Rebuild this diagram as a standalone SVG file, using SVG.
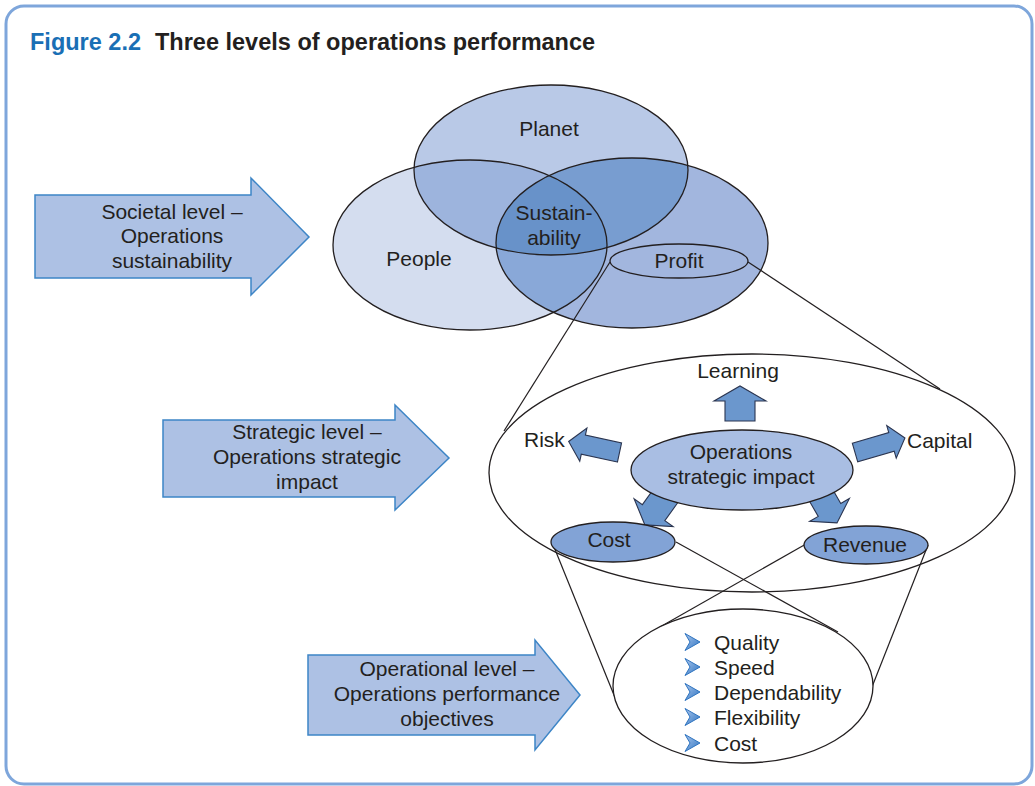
<svg xmlns="http://www.w3.org/2000/svg" width="1035" height="786" viewBox="0 0 1035 786">
<style>
text{font-family:"Liberation Sans",Arial,sans-serif;font-size:21px;fill:#231f20}
.c{text-anchor:middle}
.ol{fill:none;stroke:#231f20;stroke-width:1.3}
.ln{stroke:#231f20;stroke-width:1.2;fill:none}
.lvl{fill:#adc1e4;stroke:#3d85c6;stroke-width:1.5}
.ba{fill:#6b97cd;stroke:#2b3550;stroke-width:1.1}
</style>
<defs>
<ellipse id="ePeople" cx="470" cy="245" rx="137" ry="85"/>
<ellipse id="ePlanet" cx="551" cy="170" rx="137" ry="85"/>
<ellipse id="eProfit" cx="632" cy="243" rx="136" ry="85"/>
<clipPath id="cPeople"><use href="#ePeople"/></clipPath>
<clipPath id="cProfit"><use href="#eProfit"/></clipPath>
<linearGradient id="gb" x1="0" y1="0" x2="1" y2="1">
<stop offset="0" stop-color="#a9c6ee"/><stop offset="1" stop-color="#2f74c0"/>
</linearGradient>
<polygon id="chev" points="0,-8.5 15,0 0,8.5 5,0" fill="url(#gb)" stroke="#2f74c0" stroke-width="1"/>
</defs>
<rect x="6" y="6" width="1026" height="778" rx="18" fill="#fff" stroke="#7ea6db" stroke-width="3"/>
<g id="title">
<text x="30" y="50" style="font-size:23.5px;font-weight:bold;fill:#1a6fb5">Figure 2.2</text>
<text x="155" y="50" style="font-size:23.5px;font-weight:bold;fill:#231f20">Three levels of operations performance</text>
</g>
<g id="venn">
<use href="#ePeople" fill="#d4ddef"/>
<use href="#ePlanet" fill="#b9c9e7"/>
<use href="#eProfit" fill="#a2b6de"/>
<use href="#ePlanet" fill="#9db4dd" clip-path="url(#cPeople)"/>
<use href="#ePlanet" fill="#789dd0" clip-path="url(#cProfit)"/>
<g clip-path="url(#cProfit)"><use href="#ePeople" fill="#89a8d8"/></g>
<g clip-path="url(#cProfit)"><use href="#ePlanet" fill="#6892c9" clip-path="url(#cPeople)"/></g>
<use href="#ePeople" class="ol"/>
<use href="#ePlanet" class="ol"/>
<use href="#eProfit" class="ol"/>
<text class="c" x="549" y="136">Planet</text>
<text class="c" x="419" y="266">People</text>
<text class="c" x="554" y="220">Sustain-</text>
<text class="c" x="554" y="245">ability</text>
</g>
<g id="profit">
<ellipse cx="679" cy="261" rx="69" ry="17" fill="#a2b6de" stroke="#231f20" stroke-width="1.3"/>
<text class="c" x="679" y="268">Profit</text>
</g>
<g id="strategic-ellipse">
<ellipse cx="752" cy="473" rx="263" ry="119" fill="none" stroke="#231f20" stroke-width="1.3"/>
</g>
<g id="connectors">
<line class="ln" x1="610" y1="262" x2="504" y2="431"/>
<line class="ln" x1="748" y1="262" x2="940" y2="389"/>
<line class="ln" x1="552" y1="542" x2="616" y2="700"/>
<line class="ln" x1="676" y1="542" x2="838" y2="632"/>
<line class="ln" x1="806" y1="544" x2="660" y2="627"/>
<line class="ln" x1="928" y1="545" x2="870" y2="692"/>
</g>
<g id="impact-arrows">
<polygon class="ba" transform="translate(740,421) rotate(-90)" points="0,-15 20,-15 20,-26 35,0 20,26 20,15 0,15"/>
<polygon class="ba" transform="translate(619.5,452.5) rotate(192.2)" points="0,-9.8 37,-9.8 37,-17 52,0 37,17 37,9.8 0,9.8"/>
<polygon class="ba" transform="translate(855,452.5) rotate(-16.2)" points="0,-9.7 38,-9.7 38,-17 52,0 38,17 38,9.7 0,9.7"/>
<polygon class="ba" transform="translate(667,494) rotate(125.6)" points="0,-13.8 23,-13.8 23,-24 38,0 23,24 23,13.8 0,13.8"/>
<polygon class="ba" transform="translate(818,490) rotate(60)" points="0,-13 23,-13 23,-23 38,0 23,23 23,13 0,13"/>
</g>
<g id="impact">
<ellipse cx="742" cy="470" rx="111" ry="40" fill="#a9bee3" stroke="#231f20" stroke-width="1.3"/>
<text class="c" x="741" y="459">Operations</text>
<text class="c" x="741" y="484">strategic impact</text>
</g>
<g id="learning"><text class="c" x="738" y="378">Learning</text></g>
<g id="risk"><text x="524" y="447">Risk</text></g>
<g id="capital"><text x="907" y="448">Capital</text></g>
<g id="cost">
<ellipse cx="613" cy="542" rx="62" ry="20" fill="#82a3d6" stroke="#231f20" stroke-width="1.3"/>
<text class="c" x="609" y="547">Cost</text>
</g>
<g id="revenue">
<ellipse cx="866" cy="545" rx="62" ry="19" fill="#82a3d6" stroke="#231f20" stroke-width="1.3"/>
<text class="c" x="865" y="552">Revenue</text>
</g>
<g id="objectives">
<ellipse cx="743" cy="686" rx="130" ry="77" fill="#fff" stroke="#231f20" stroke-width="1.3"/>
<use href="#chev" x="685" y="642"/>
<use href="#chev" x="685" y="667"/>
<use href="#chev" x="685" y="692"/>
<use href="#chev" x="685" y="717"/>
<use href="#chev" x="685" y="743"/>
<text x="714" y="650">Quality</text>
<text x="714" y="675">Speed</text>
<text x="714" y="700">Dependability</text>
<text x="714" y="725">Flexibility</text>
<text x="714" y="751">Cost</text>
</g>
<g id="societal-level">
<polygon class="lvl" points="35,195 251,195 251,178 309,237 251,295 251,278 35,278"/>
<text class="c" x="172" y="219">Societal level –</text>
<text class="c" x="172" y="243">Operations</text>
<text class="c" x="172" y="268">sustainability</text>
</g>
<g id="strategic-level">
<polygon class="lvl" points="163,420 395,420 395,405 449,458 395,510 395,497 163,497"/>
<text class="c" x="307" y="439">Strategic level –</text>
<text class="c" x="307" y="464">Operations strategic</text>
<text class="c" x="307" y="489">impact</text>
</g>
<g id="operational-level">
<polygon class="lvl" points="308,655 535,655 535,640 580,695 535,750 535,735 308,735"/>
<text class="c" x="447" y="676">Operational level –</text>
<text class="c" x="447" y="701">Operations performance</text>
<text class="c" x="447" y="726">objectives</text>
</g>
</svg>
